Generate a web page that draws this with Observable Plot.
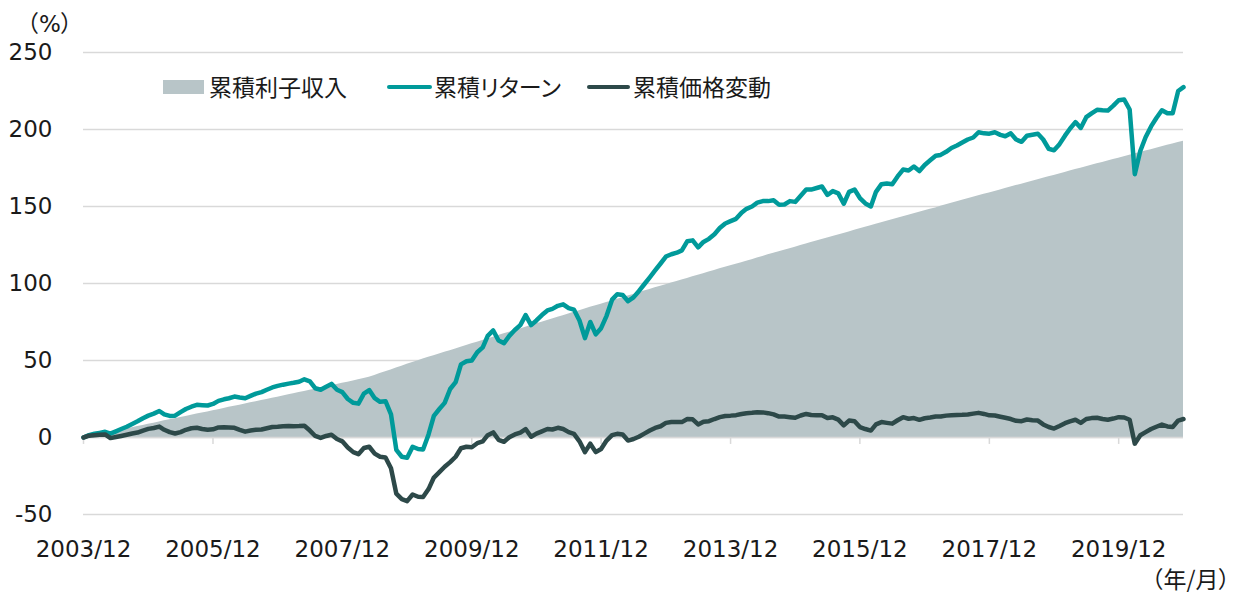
<!DOCTYPE html>
<html>
<head>
<meta charset="utf-8">
<script src="https://cdn.jsdelivr.net/npm/d3@7"></script>
<script src="https://cdn.jsdelivr.net/npm/@observablehq/plot@0.6"></script>
<style>
  html, body { margin: 0; padding: 0; background: #fff; }
  #wrap { position: relative; width: 1237px; height: 596px; overflow: hidden;
          font-family: "DejaVu Sans", "Noto Sans CJK JP", sans-serif; color: #1a1a1a; }
  .jp { position: absolute; font-family: "Noto Sans CJK JP", sans-serif; font-size: 23px;
        line-height: 23px; white-space: nowrap; font-feature-settings: "palt"; color: #1a1a1a; }
  .unit { position: absolute; font-family: "Noto Sans CJK JP", sans-serif; font-size: 23px;
        line-height: 23px; white-space: nowrap; color: #1a1a1a; }
  .palt { font-feature-settings: "palt"; }
  .lat { font-family: "DejaVu Sans", sans-serif; }
  .sw { position: absolute; }
</style>
</head>
<body>
<div id="wrap"></div>
<script>
// ---- data (monthly, 2003/12 .. 2020/12) ----
const startMonth = "2003-12";
const seriesNames = ["累積利子収入", "累積リターン", "累積価格変動"];

const totalReturn = [
  0, 1.5, 2.4, 3, 3.7, 2.5, 4, 5.5, 7, 8.8, 10.5, 12.5, 14.2, 15.5, 17.2, 15, 14, 14.2, 16.5, 18.5,
  20, 21.2, 21, 20.8, 21.8, 23.8, 24.8, 25.5, 26.6, 26, 25.5, 27, 28.5, 29.5, 31, 32.5, 33.5, 34.3, 35, 35.5,
  36.2, 37.8, 36.5, 32, 31, 33, 34.8, 31, 29.5, 25, 22.5, 22, 28.5, 30.8, 25.5, 23.2, 23.6, 15, -8, -12.5,
  -13.2, -6, -7.5, -7.8, 2, 14, 18.5, 22.5, 31.5, 36, 47.5, 49.5, 50, 55.4, 58.5, 66, 69.5, 63, 61.3, 66,
  69.8, 73, 79.5, 73, 76, 79.5, 82.5, 83.5, 85.5, 86.5, 84, 83, 76, 64.5, 75, 67, 71, 79, 89.5, 93,
  92.5, 88.5, 91, 95, 99.5, 104, 108.5, 113, 117.5, 119, 120, 121.5, 127.5, 128, 123.5, 127, 129, 132, 136, 139,
  140.5, 142, 146, 148.5, 150, 152.5, 153.5, 153.5, 154, 151.2, 151.3, 153.5, 153, 157, 161, 161, 162, 163, 157.5, 160,
  158.5, 151.8, 159.5, 161, 155.5, 152, 150, 159.5, 164.5, 165, 164.5, 169.5, 174, 173.4, 176, 173, 177, 180, 183, 183.5,
  185.5, 188, 189.6, 191.5, 193.5, 194.8, 198.2, 197.5, 197.3, 198.2, 196.5, 195.6, 197.5, 193.5, 192, 196, 196.6, 197.2, 193.5, 187.5,
  186.5, 190.5, 196, 200.5, 204.8, 201, 208, 210.5, 212.8, 212.5, 212.3, 215.5, 219, 219.5, 213, 171, 186, 195, 202, 207.5,
  212.5, 210.5, 210.6, 225, 227.5
];

const priceChange = [
  0, 1.2, 1.5, 1.8, 2, -0.4, 0.3, 1, 1.8, 2.6, 3.2, 4.5, 5.6, 6.2, 7.1, 5, 3.5, 2.6, 3.5, 5,
  6, 6.3, 5.5, 5, 5.3, 6.5, 6.6, 6.5, 6.3, 5, 3.8, 4.5, 5, 5.2, 6, 6.8, 7, 7.3, 7.5, 7.3,
  7.4, 7.6, 4.5, 1, -0.3, 1, 1.8, -1, -2.5, -6.5, -9.5, -10.8, -6.8, -6, -10.5, -12.5, -13, -20, -36.5, -40,
  -41.3, -37, -38.5, -38.7, -33.5, -26, -22.5, -19, -16, -12.5, -7, -6, -6.3, -3.7, -2.5, 1.5, 3.3, -1.5, -2.8, 0.2,
  2, 3.2, 5.5, 0.5, 2.5, 4, 5.5, 5.2, 6.3, 5.5, 3.5, 2.4, -2.5, -9.5, -4, -9.5, -7.5, -2, 1.5, 2.4,
  2, -2, -1, 0.5, 2.5, 4.5, 6.2, 7.3, 9.5, 10, 10, 10, 12, 11.8, 8.5, 10.3, 10.6, 12, 13.2, 14,
  14.2, 14.5, 15.3, 15.8, 16, 16.4, 16.3, 15.8, 15, 13.6, 13.6, 13.2, 12.8, 14.3, 15.3, 14.6, 14.5, 14.5, 12.6, 13.1,
  11.6, 7.9, 11, 10.6, 6.8, 5.5, 4.5, 8.5, 10, 9.5, 9, 11.2, 13.2, 12.2, 12.6, 11.5, 12.5, 13, 13.6, 13.6,
  14.2, 14.5, 14.6, 14.7, 15, 15.5, 16, 15.3, 14.4, 14.3, 13.5, 12.8, 12, 10.8, 10.6, 11.7, 11.2, 11, 8.5, 6.8,
  5.8, 7.5, 9.3, 10.5, 11.5, 9.5, 12, 12.6, 12.8, 12, 11.5, 12.3, 13.2, 13, 11.5, -4, 1.5, 3.5, 5.5, 7,
  8.4, 7.2, 6.8, 11, 12
];

const interestIncome = [
  0, 0.7, 1.4, 2.1, 2.8, 3.5, 4.2, 4.9, 5.7, 6.4, 7.1, 7.8, 8.6, 9.3, 10, 10.8, 11.5, 12.2, 13, 13.7,
  14.4, 15.2, 15.9, 16.6, 17.4, 18.1, 18.8, 19.6, 20.3, 21, 21.8, 22.5, 23.2, 24, 24.7, 25.5, 26.2, 26.9, 27.7, 28.4,
  29.2, 29.9, 30.7, 31.4, 32.2, 32.9, 33.7, 34.4, 35.2, 35.9, 36.7, 37.5, 38.3, 39.2, 40.3, 41.5, 42.7, 43.9, 45.1, 46.3,
  47.5, 48.7, 49.9, 51, 52.1, 53.1, 54.2, 55.3, 56.4, 57.5, 58.6, 59.7, 60.8, 61.9, 63, 64, 65.1, 66.2, 67.3, 68.4,
  69.4, 70.5, 71.6, 72.7, 73.8, 74.8, 75.9, 77, 78.1, 79.1, 80.2, 81.3, 82.3, 83.4, 84.5, 85.5, 86.6, 87.7, 88.7, 89.8,
  90.8, 91.9, 92.9, 94, 95.1, 96.1, 97.2, 98.2, 99.2, 100.3, 101.3, 102.3, 103.3, 104.4, 105.4, 106.4, 107.4, 108.4, 109.5, 110.5,
  111.5, 112.5, 113.5, 114.5, 115.5, 116.6, 117.6, 118.6, 119.6, 120.6, 121.6, 122.6, 123.6, 124.6, 125.6, 126.6, 127.6, 128.6, 129.6, 130.6,
  131.5, 132.5, 133.5, 134.5, 135.5, 136.5, 137.5, 138.4, 139.4, 140.4, 141.4, 142.3, 143.3, 144.3, 145.3, 146.2, 147.2, 148.2, 149.1, 150.1,
  151.1, 152.1, 153.1, 154.1, 155, 156, 156.9, 157.9, 158.8, 159.8, 160.7, 161.7, 162.6, 163.6, 164.5, 165.5, 166.4, 167.4, 168.3, 169.3,
  170.2, 171.1, 172.1, 173, 174, 174.9, 175.8, 176.8, 177.7, 178.6, 179.6, 180.5, 181.4, 182.3, 183.3, 184.2, 185.1, 186, 186.9, 187.9,
  188.8, 189.7, 190.6, 191.5, 192.3
];

const xTickLabels = ["2003/12", "2005/12", "2007/12", "2009/12", "2011/12", "2013/12", "2015/12", "2017/12", "2019/12"];
const yTicks = [-50, 0, 50, 100, 150, 200, 250];

const colors = { interest: "#b8c5c8", total: "#009a9a", price: "#2d4949" };

// ---- build table ----
const parseMonth = d3.utcParse("%Y-%m");
const parseTick = d3.utcParse("%Y/%m");
const t0 = parseMonth(startMonth);
const data = totalReturn.map((v, i) => ({
  date: d3.utcMonth.offset(t0, i),
  total: v,
  price: priceChange[i],
  interest: interestIncome[i]
}));
const tickDates = xTickLabels.map(parseTick);

const chart = Plot.plot({
  width: 1237,
  height: 596,
  marginLeft: 83,
  marginRight: 54,
  marginTop: 52,
  marginBottom: 82,
  style: { fontFamily: '"DejaVu Sans", "Noto Sans CJK JP", sans-serif', fontSize: "23px", color: "#1a1a1a", background: "transparent" },
  x: { type: "utc", domain: [data[0].date, data[data.length - 1].date] },
  y: { domain: [-50, 250] },
  marks: [
    Plot.gridY(yTicks, { stroke: "#d9d9d9", strokeOpacity: 1, strokeWidth: 1.5 }),
    Plot.areaY(data, { x: "date", y: "interest", fill: colors.interest, curve: "linear" }),
    Plot.ruleY([0], { stroke: "#d9d9d9", strokeWidth: 1.5 }),
    Plot.ruleX(tickDates, { y1: 0, y2: -4.5, stroke: "#d9d9d9", strokeWidth: 1.5 }),
    Plot.lineY(data, { x: "date", y: "total", stroke: colors.total, strokeWidth: 4.5, strokeLinejoin: "round", strokeLinecap: "round" }),
    Plot.lineY(data, { x: "date", y: "price", stroke: colors.price, strokeWidth: 4.5, strokeLinejoin: "round", strokeLinecap: "round" }),
    Plot.axisX(tickDates, { tickSize: 0, tickPadding: 26, tickFormat: d3.utcFormat("%Y/%m"), fontSize: 23, label: null }),
    Plot.axisY(yTicks, { tickSize: 0, tickPadding: 31, fontSize: 23, tickFormat: d => String(d), label: null })
  ]
});

const wrap = document.getElementById("wrap");
chart.style.position = "absolute";
chart.style.left = "0px";
chart.style.top = "0px";
wrap.appendChild(chart);

function addDiv(cls, html, css) {
  const el = document.createElement("div");
  el.className = cls;
  if (html) el.innerHTML = html;
  Object.assign(el.style, css);
  wrap.appendChild(el);
  return el;
}
// unit labels
addDiv("unit", "（<span class=\"lat\">%</span><span class=\"palt\">）</span>", { left: "16px", top: "11px" });
addDiv("unit", "（年/月<span class=\"palt\">）</span>", { right: "7px", top: "567px" });
// legend
addDiv("sw", "", { left: "163px", top: "80px", width: "41px", height: "14px", background: colors.interest });
addDiv("jp", seriesNames[0], { left: "209px", top: "75px" });
addDiv("sw", "", { left: "387px", top: "85px", width: "45px", height: "4px", borderRadius: "2px", background: colors.total });
addDiv("jp", seriesNames[1], { left: "434px", top: "75px" });
addDiv("sw", "", { left: "587px", top: "85px", width: "43px", height: "4px", borderRadius: "2px", background: colors.price });
addDiv("jp", seriesNames[2], { left: "633px", top: "75px" });
</script>
</body>
</html>
